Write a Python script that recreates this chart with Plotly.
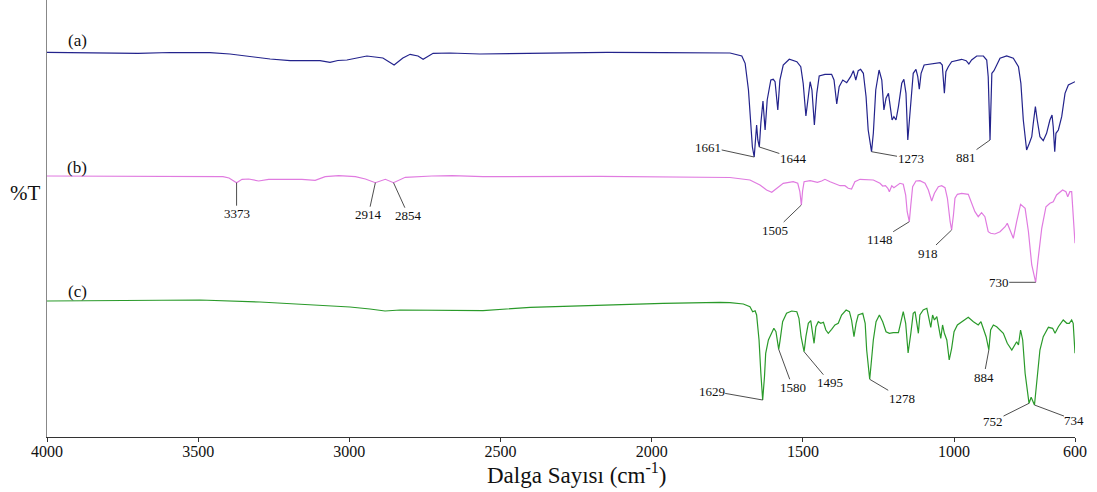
import plotly.graph_objects as go

# ---------------- data (arbitrary stacked %T units) ----------------
wn_a = [4000, 3699, 3593, 3461, 3395, 3329, 3262, 3196, 3097, 3064,
        3038, 3008, 2942, 2889, 2852, 2823, 2799, 2773, 2756, 2723,
        2667, 2568, 2313, 2148, 1963, 1774, 1741, 1702, 1691, 1680,
        1673, 1667, 1661, 1657, 1653, 1649, 1644, 1639, 1632, 1625,
        1618, 1606, 1598, 1592, 1583, 1576, 1565, 1545, 1520, 1507,
        1499, 1490, 1482, 1476, 1470, 1462, 1454, 1446, 1427, 1405,
        1397, 1388, 1380, 1368, 1355, 1342, 1333, 1325, 1317, 1309,
        1300, 1291, 1284, 1273, 1267, 1259, 1248, 1239, 1232, 1225,
        1217, 1212, 1205, 1199, 1192, 1184, 1173, 1166, 1159, 1153,
        1143, 1135, 1126, 1120, 1115, 1109, 1099, 1069, 1046, 1039,
        1032, 1027, 1019, 1008, 991, 975, 960, 951, 942, 925,
        903, 892, 887, 883, 881, 879, 875, 868, 859, 848,
        826, 804, 787, 779, 771, 760, 751, 743, 738, 731,
        725, 716, 705, 694, 683, 676, 672, 667, 663, 655,
        644, 633, 622, 600]
t_a = [384.7, 383.7, 384.5, 384.3, 383, 380.3, 378, 376.3, 376.3, 374.7,
       376.5, 377, 381, 379, 372, 379, 382.7, 381, 377.7, 383.7,
       384, 383, 383.7, 384.7, 384.3, 384.3, 384, 381, 373.7, 347,
       314, 290, 280, 300, 312, 297, 290, 314, 336, 307,
       337, 357, 357.7, 355.3, 327, 357, 372, 377.7, 375.3, 370.3,
       353.7, 321, 343.7, 355.3, 347, 312, 343.7, 361, 362.7, 362.7,
       357, 333, 350.3, 357, 354.3, 360.3, 366.3, 357, 366.3, 367.7,
       363.7, 340.3, 307, 285.3, 303.7, 347, 367, 357, 327, 338.7,
       343.7, 330.3, 317, 320.3, 317, 330.3, 353.7, 357.7, 343.7, 297,
       333.7, 363.7, 367.7, 360.3, 347.7, 363.7, 372, 373, 374.3, 372,
       343.7, 365.3, 370.3, 375.3, 376.3, 377.7, 376.3, 373, 377, 381,
       381, 377, 360.3, 320.3, 297, 320.3, 363.7, 366.3, 372, 378.7,
       381, 378.7, 370.3, 353.7, 317, 287, 293.7, 300.3, 313.7, 330.3,
       317, 300.3, 296.3, 303.7, 317, 322, 310.3, 285.3, 303.7, 307,
       320.3, 343.7, 352, 355.3]

wn_b = [4000, 3451, 3418, 3398, 3373, 3355, 3333, 3300, 3267, 3157,
        3113, 3080, 3035, 2980, 2947, 2914, 2881, 2854, 2815, 2727,
        2660, 2558, 2171, 1741, 1675, 1642, 1620, 1603, 1587, 1565,
        1532, 1517, 1510, 1505, 1501, 1496, 1476, 1452, 1438, 1427,
        1410, 1394, 1377, 1361, 1350, 1339, 1328, 1311, 1267, 1245,
        1236, 1227, 1219, 1214, 1206, 1199, 1190, 1179, 1168, 1160,
        1155, 1148, 1143, 1137, 1126, 1113, 1096, 1085, 1074, 1065,
        1052, 1041, 1030, 1022, 1013, 1008, 1002, 997, 989, 975,
        953, 942, 931, 920, 909, 898, 887, 879, 865, 848,
        831, 824, 815, 804, 793, 780, 765, 754, 743, 730,
        723, 710, 696, 683, 672, 661, 641, 630, 624, 617,
        611, 608, 603, 600]
t_b = [261, 261, 260.3, 259, 254.3, 257.7, 258, 256, 257.7, 257.7,
       256.7, 260.3, 261.3, 260.3, 258, 254.3, 257.7, 254.3, 259.7, 261,
       261.3, 260.3, 260.7, 259.5, 257, 252, 247, 244.7, 248.7, 253.7,
       255.3, 253.7, 245.3, 232, 246, 255.3, 256.3, 254.7, 256, 257.7,
       255.3, 253, 251.3, 251.3, 248.7, 248, 255.3, 257.7, 257, 253.7,
       251, 251.3, 248.7, 245.3, 251.3, 249.3, 251.3, 253.7, 252.7, 242,
       225.3, 215.3, 232, 250.3, 256, 256.3, 253.7, 247, 236, 243.7,
       250.3, 251.3, 249.3, 238.7, 215.3, 207, 222, 238.7, 242.7, 243.7,
       242.7, 233.7, 225.3, 220.3, 224.3, 220.3, 205.3, 203.7, 203, 205.3,
       210.3, 213.7, 207, 198.7, 215.3, 232.7, 228.7, 205.3, 172, 154.7,
       175.3, 208.7, 230.3, 233.7, 235.3, 242, 247, 245.3, 240.3, 245.3,
       245.3, 232, 205.3, 193.7]

wn_c = [4000, 3494, 3296, 3097, 2998, 2932, 2882, 2832, 2733, 2558,
        2402, 2181, 1963, 1774, 1741, 1697, 1675, 1666, 1658, 1653,
        1645, 1639, 1633, 1627, 1623, 1614, 1603, 1596, 1589, 1580,
        1576, 1567, 1554, 1537, 1520, 1513, 1506, 1496, 1490, 1482,
        1474, 1467, 1463, 1457, 1449, 1441, 1432, 1424, 1416, 1405,
        1394, 1383, 1372, 1357, 1346, 1339, 1331, 1324, 1317, 1302,
        1294, 1289, 1279, 1274, 1267, 1258, 1247, 1236, 1225, 1214,
        1201, 1184, 1173, 1168, 1160, 1152, 1143, 1135, 1129, 1124,
        1118, 1113, 1102, 1090, 1084, 1077, 1071, 1065, 1057, 1050,
        1044, 1038, 1032, 1024, 1016, 1008, 1000, 989, 975, 953,
        936, 920, 911, 903, 894, 885, 879, 870, 859, 837,
        824, 809, 798, 793, 787, 780, 773, 765, 752, 745,
        734, 727, 716, 705, 688, 674, 666, 655, 639, 627,
        619, 611, 606, 600]
t_c = [136, 137, 135, 132, 130, 128, 126, 127, 127, 126.3,
       129.7, 132, 133.7, 134.7, 134.3, 133, 130.3, 125.3, 126.3, 122,
       97, 63.7, 37, 60.3, 83.7, 97, 105.3, 108.7, 105.3, 87.7,
       95.3, 115.3, 123.7, 126, 125.3, 118.7, 100.3, 85.3, 100.3, 113.7,
       116.3, 103.7, 93.7, 110.3, 115.3, 113.7, 114.7, 107, 103.7, 107.7,
       112, 113.7, 122, 127, 125.3, 117, 100.3, 113.7, 122, 123.7,
       113.7, 87, 57.7, 73.7, 97, 115.3, 122, 115.3, 105.3, 103.7,
       104.3, 104.3, 118.7, 125.3, 113.7, 84, 103.7, 123.7, 125.3, 117,
       103.7, 122, 127, 128.7, 120.3, 109.7, 122, 117, 120.3, 110.3,
       98.7, 112, 103.7, 97, 77, 88.7, 105.3, 112, 115.3, 119.7,
       115.3, 112, 115.3, 107.7, 100.3, 87, 107, 112, 110.3, 103.7,
       93.7, 87, 93.7, 95.3, 92, 107, 97, 63.7, 33.7, 39.7,
       32, 53.7, 87, 100.3, 109.7, 108.7, 103.7, 110.3, 117, 113.7,
       113.7, 117, 113.7, 83.7]

# peak labels: text, wavenumber of the marked point in the trace
peaks_a_text = ["1661", "1644", "1273", "881"]
peaks_a_wn = [1661, 1644, 1273, 881]
peaks_b_text = ["3373", "2914", "2854", "1505", "1148", "918", "730"]
peaks_b_wn = [3373, 2914, 2854, 1505, 1148, 1008, 730]
peaks_c_text = ["1629", "1580", "1495", "1278", "884", "752", "734"]
peaks_c_wn = [1633, 1580, 1496, 1279, 885, 752, 734]

series_labels = ["(a)", "(b)", "(c)"]
tick_vals = [4000, 3500, 3000, 2500, 2000, 1500, 1000, 600]
tick_text = ["4000", "3500", "3000", "2500", "2000", "1500", "1000", "600"]
x_title = "Dalga Sayısı (cm<sup>-1</sup>)"
y_title = "%T"

# ---------------- styling ----------------
colors = ["#23238c", "#e07be0", "#2a9a2a"]
# label offsets (pixels) from the marked point to the text centre
offs_a = [(-46, -10), (34, 11), (39, 7), (-24, 17)]
offs_b = [(0, 31), (-7, 32), (15, 33), (-26, 25), (-29, 18), (-24, 23), (-37, 0)]
offs_c = [(-51, -9), (14, 38), (26, 31), (32, 19), (-5, 27), (-36, 18), (40, 15)]
label_pos = [(3900, 397), (3900, 270), (3900, 146)]
SERIF = "Liberation Serif"

fig = go.Figure()
for wn, t, c in zip([wn_a, wn_b, wn_c], [t_a, t_b, t_c], colors):
    fig.add_trace(go.Scatter(x=wn, y=t, mode="lines",
                             line=dict(color=c, width=1.2),
                             showlegend=False, hoverinfo="x+y"))

annotations = []
for wn, t, texts, pwn, offs in [(wn_a, t_a, peaks_a_text, peaks_a_wn, offs_a),
                                (wn_b, t_b, peaks_b_text, peaks_b_wn, offs_b),
                                (wn_c, t_c, peaks_c_text, peaks_c_wn, offs_c)]:
    for txt, p, (ax, ay) in zip(texts, pwn, offs):
        yv = t[wn.index(p)]
        annotations.append(dict(
            x=p, y=yv, xref="x", yref="y", text=txt,
            showarrow=True, arrowhead=0, arrowwidth=0.9, arrowcolor="#3a3a3a",
            ax=ax, ay=ay, axref="pixel", ayref="pixel", standoff=0,
            font=dict(family=SERIF, size=13, color="#111111"),
            borderpad=0))

for lab, (lx, ly) in zip(series_labels, label_pos):
    annotations.append(dict(x=lx, y=ly, xref="x", yref="y", text=lab,
                            showarrow=False,
                            font=dict(family=SERIF, size=17, color="#111111")))

annotations.append(dict(x=-0.0214, y=0.558, xref="paper", yref="paper", text=y_title,
                        showarrow=False, xanchor="center", yanchor="middle",
                        font=dict(family=SERIF, size=21, color="#111111")))
annotations.append(dict(x=0.5146, y=-0.083, xref="paper", yref="paper", text=x_title,
                        showarrow=False, xanchor="center", yanchor="middle",
                        font=dict(family=SERIF, size=23, color="#111111")))

fig.update_layout(
    width=1097, height=492,
    margin=dict(l=47, r=22, t=0, b=55, autoexpand=False),
    plot_bgcolor="white", paper_bgcolor="white",
    annotations=annotations,
    xaxis=dict(range=[4000, 600], tickvals=tick_vals, ticktext=tick_text,
               ticks="outside", ticklen=4, tickcolor="#333333", tickwidth=1,
               showline=True, linecolor="#333333", linewidth=1,
               showgrid=False, zeroline=False, automargin=False,
               ticklabelstandoff=-4,
               tickfont=dict(family=SERIF, size=16, color="#111111")),
    yaxis=dict(range=[0, 437], showticklabels=False, ticks="",
               showline=True, linecolor="#888888", linewidth=1,
               showgrid=False, zeroline=False, automargin=False),
)

fig.write_html("out.html", config={"displayModeBar": False},
               post_script="document.body.style.margin='0';document.body.style.padding='0';")
